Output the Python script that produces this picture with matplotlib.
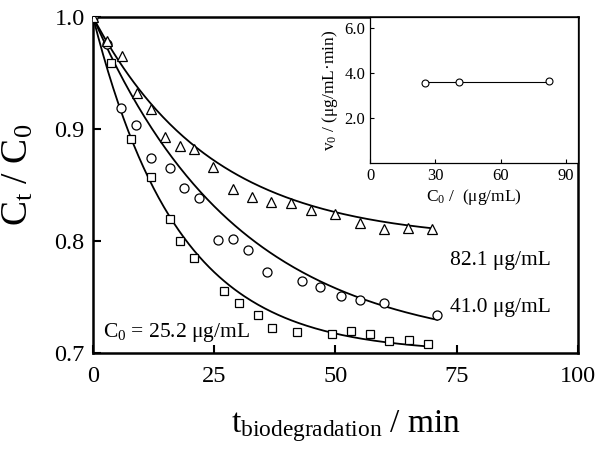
import numpy as np
import matplotlib
matplotlib.use("Agg")
import matplotlib.pyplot as plt

plt.rcParams['font.family'] = ['Liberation Serif', 'DejaVu Serif']
plt.rcParams['mathtext.fontset'] = 'custom'
plt.rcParams['mathtext.rm'] = 'Liberation Serif'
plt.rcParams['mathtext.it'] = 'Liberation Serif:italic'

# C0 = 25.2 ug/mL (squares)
t_sq = [0, 3.7, 7.8, 11.9, 15.9, 17.9, 20.9, 27.0, 30.1, 34.1, 37.0, 42.1,
        49.2, 53.1, 57.1, 61.1, 65.2, 69.1]
c_sq = [1.0, 0.959, 0.891, 0.857, 0.820, 0.800, 0.785, 0.755, 0.745, 0.734,
        0.722, 0.719, 0.717, 0.720, 0.717, 0.711, 0.712, 0.708]
# C0 = 41.0 ug/mL (circles)
t_ci = [0, 2.8, 5.8, 8.9, 12.0, 15.9, 18.8, 21.9, 25.8, 28.9, 32.0, 35.9,
        43.0, 46.9, 51.1, 55.1, 60.0, 71.0]
c_ci = [1.0, 0.976, 0.919, 0.904, 0.874, 0.865, 0.847, 0.838, 0.801, 0.802,
        0.792, 0.772, 0.764, 0.759, 0.751, 0.747, 0.745, 0.734]
# C0 = 82.1 ug/mL (triangles)
t_tr = [0, 2.8, 5.9, 9.0, 12.0, 14.8, 17.9, 20.9, 24.8, 28.9, 32.8, 36.8,
        40.8, 44.9, 49.9, 55.1, 59.9, 65.0, 70.0]
c_tr = [1.0, 0.979, 0.965, 0.932, 0.918, 0.893, 0.885, 0.882, 0.866, 0.846,
        0.839, 0.835, 0.834, 0.828, 0.824, 0.816, 0.811, 0.812, 0.811]

# fitted first-order decay: C/C0 = plateau + (1 - plateau) * exp(-k t)
fit_plateau = [0.700, 0.702, 0.800]
fit_k = [0.057, 0.0335, 0.041]

# inset: initial rate vs initial concentration
c0_inset = [25.2, 41.0, 82.1]
v0_inset = [3.54, 3.60, 3.64]

fig = plt.figure(figsize=(6, 4.49), dpi=100)
ax = fig.add_axes([0.155, 0.2138, 0.8083, 0.7483])

series = [(t_sq, c_sq, 's', 6.0), (t_ci, c_ci, 'o', 6.5), (t_tr, c_tr, '^', 7.5)]
for (t, c, m, ms), a, k in zip(series, fit_plateau, fit_k):
    ax.plot(t, c, m, ls='none', mfc='white', mec='black', mew=0.9, ms=ms,
            clip_on=True, zorder=3)
    tt = np.linspace(0, t[-1], 200)
    ax.plot(tt, a + (1 - a) * np.exp(-k * tt), color='black', lw=1.3, zorder=2)

ax.set_xlim(0, 100)
ax.set_ylim(0.7, 1.0)
ax.set_xticks([0, 25, 50, 75, 100])
ax.set_yticks([0.7, 0.8, 0.9, 1.0])
ax.set_yticklabels(['0.7', '0.8', '0.9', '1.0'])
ax.tick_params(direction='in', length=6, width=1.5, labelsize=17.5)
ax.tick_params(axis='x', pad=9)
ax.tick_params(axis='y', pad=6)
for s in ax.spines.values():
    s.set_linewidth(1.8)

ax.set_xlabel(r't$_\mathrm{biodegradation}$ / min', fontsize=24)
ax.xaxis.set_label_coords(0.522, -0.165)
ax.set_ylabel(r'C$_\mathrm{t}$ / C$_\mathrm{0}$', fontsize=27)
ax.yaxis.set_label_coords(-0.118, 0.53)

ax.text(73.6, 0.783, '82.1 μg/mL', fontsize=15.5, va='center')
ax.text(73.6, 0.741, '41.0 μg/mL', fontsize=15.5, va='center')
ax.text(2.1, 0.718, r'C$_\mathrm{0}$ = 25.2 μg/mL', fontsize=15.5, va='center')

# inset
ins = fig.add_axes([0.6167, 0.637, 0.3467, 0.3252])
ins.plot(c0_inset, v0_inset, 'o', ls='none', mfc='white', mec='black',
         mew=0.8, ms=5, zorder=3)
ins.plot([c0_inset[0], c0_inset[-1]], [np.mean(v0_inset)] * 2,
         color='black', lw=0.8)
ins.set_xlim(0, 95.5)
ins.set_ylim(0, 6.5)
ins.set_xticks([0, 30, 60, 90])
ins.set_yticks([2, 4, 6])
ins.set_yticklabels(['2.0', '4.0', '6.0'])
ins.tick_params(direction='in', length=3, width=0.8, labelsize=12)
for s in ins.spines.values():
    s.set_linewidth(0.9)
ins.set_xlabel(r'C$_\mathrm{0}$ /  (μg/mL)', fontsize=12.5, labelpad=2)
ins.set_ylabel(r'v$_\mathrm{0}$ / (μg/mL·min)', fontsize=12.5, labelpad=3)

fig.savefig('out.png', dpi=100)
